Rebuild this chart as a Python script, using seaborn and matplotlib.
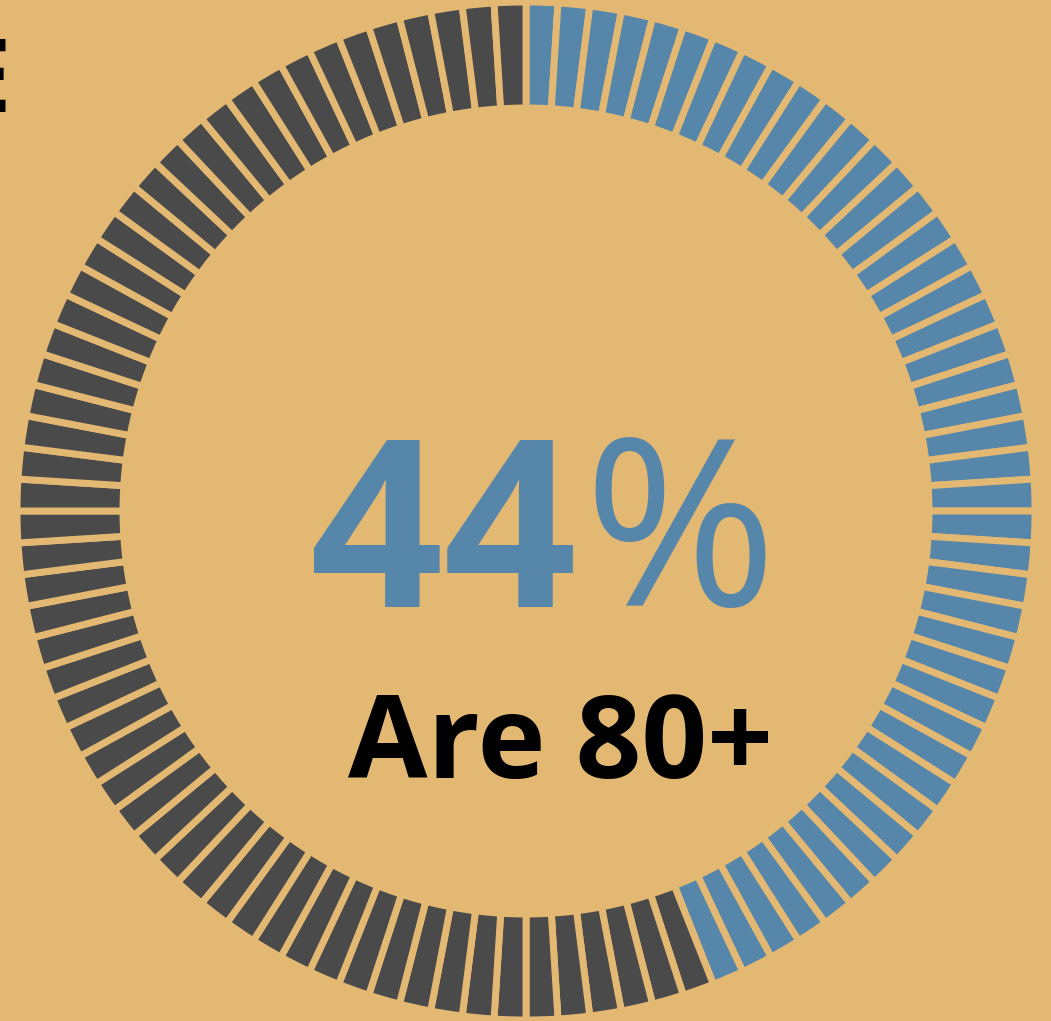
import matplotlib
matplotlib.use("Agg")
import matplotlib.pyplot as plt
import seaborn as sns

# data
pct_value = 44
n_segments = 100
num_label = "44"
pct_sign = "%"
sub_label = "Are 80+"

bg = "#E3B873"
blue = "#5686A9"
gray = "#4A4A4A"

sns.set_theme(style="white")
plt.rcParams['font.family'] = ['Open Sans', 'DejaVu Sans']

W, H = 1051, 1021
fig = plt.figure(figsize=(W / 100, H / 100), dpi=100, facecolor=bg)
ax = fig.add_axes([0, 0, 1, 1])
ax.set_facecolor(bg)

# one wedge per percent, first pct_value are blue (clockwise from top)
sizes = [1] * n_segments
colors = [blue if i < pct_value else gray for i in range(n_segments)]

ax.pie(sizes, colors=colors, startangle=90, counterclock=False,
       center=(526, H - 511), radius=509,
       wedgeprops=dict(width=106, edgecolor=bg, linewidth=5))

ax.set_xlim(0, W)
ax.set_ylim(0, H)
ax.set_aspect("equal")
ax.axis("off")

ax.text(576, H - 607, num_label, color=blue, fontsize=168, fontweight="bold",
        ha="right", va="baseline")
ax.text(583, H - 606, pct_sign, color=blue, fontsize=168, fontweight="normal",
        ha="left", va="baseline")
ax.text(560, H - 778, sub_label, color="black", fontsize=83, fontweight="bold",
        ha="center", va="baseline")

# title cut off at the left edge
ax.text(11, H - 112, "E", color="black", fontsize=74, fontweight="bold",
        ha="right", va="baseline")

fig.savefig("out.png", dpi=100, facecolor=bg)
